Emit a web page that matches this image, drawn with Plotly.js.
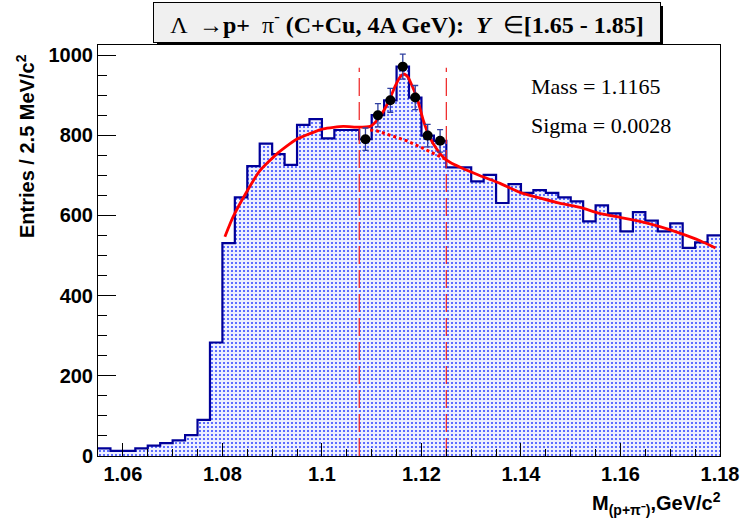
<!DOCTYPE html>
<html><head><meta charset="utf-8">
<script src="https://cdn.plot.ly/plotly-3.0.1.min.js"></script>
<style>html,body{margin:0;padding:0;background:#fff}#chart{width:740px;height:523px}</style>
</head><body><div id="chart"></div>
<script>
// Histogram: 50 bins of 2.5 MeV from 1.055 to 1.18 GeV/c^2
const binLow = 1.055;
const binWidth = 0.0025;
const counts = [19,13,13,19,26,32,39,52,90,283,
                531,645,723,779,753,726,826,840,792,813,
                813,790,850,887,971,894,799,786,720,720,
                685,701,631,678,656,663,656,645,635,585,
                625,605,560,608,587,560,580,519,533,550];
// Signal-window points (with errors)
const sigX = [1.10875,1.11125,1.11375,1.11625,1.11875,1.12125,1.12375];
const sigY = [790,850,887,971,894,799,786];
const sigErr = [28,29,30,31,30,28,28];
// Fit curve (signal + background)
const fitX = [1.0805,1.0821,1.0848,1.0875,1.0909,1.0949,1.1003,1.1043,1.1073,1.1097,1.1113,1.1125,1.1137,1.1147,1.1157,1.1165,1.1173,1.1183,1.1191,1.1204,1.1217,1.1231,1.1244,1.1258,1.1278,1.1318,1.1358,1.1399,1.1439,1.1479,1.1519,1.1558,1.1599,1.1639,1.1679,1.1719,1.1760,1.1791];
const fitY = [547,595,657,711,753,790,816,822,820,822,840,863,892,922,945,953,945,918,894,836,794,765,745,732,720,699,680,657,643,630,620,605,595,585,572,556,537,519];
// Background-only (dotted) under the peak
const bgX = [1.1097,1.1110,1.1137,1.1171,1.1197,1.1224,1.1241,1.1252];
const bgY = [813,811,800,786,771,755,743,738];
// Signal window boundaries
const winX = [1.1075,1.125];
const winTop = 968;
const massText = 'Mass = 1.1165';
const sigmaText = 'Sigma = 0.0028';

const centers = counts.map((_,i)=>binLow+(i+0.5)*binWidth);
const edges = counts.map((_,i)=>binLow+i*binWidth).concat([binLow+counts.length*binWidth]);
const stepY = counts.concat([counts[counts.length-1]]);

const traces = [
 {type:'bar', x:centers, y:counts, width:binWidth, hoverinfo:'skip',
  marker:{color:'#ffffff', line:{width:0},
   pattern:{shape:'.', fgcolor:'#3a4cff', bgcolor:'#eef0ff', size:4, solidity:0.22, fillmode:'replace'}}},
 {type:'scatter', mode:'lines', x:edges, y:stepY, line:{shape:'hv', color:'#000099', width:2.2}, hoverinfo:'skip'},
 {type:'scatter', mode:'lines', x:[winX[0],winX[0]], y:[0,winTop], line:{color:'#ee2020', width:1.2, dash:'18px,6px'}},
 {type:'scatter', mode:'lines', x:[winX[1],winX[1]], y:[0,winTop], line:{color:'#ee2020', width:1.2, dash:'18px,6px'}},
 {type:'scatter', mode:'lines', x:bgX, y:bgY, line:{color:'#ff0000', width:3, dash:'dot'}},
 {type:'scatter', mode:'lines', x:fitX, y:fitY, line:{color:'#ff0000', width:2.8, shape:'spline', smoothing:0.5}},
 {type:'scatter', mode:'markers', x:sigX, y:sigY,
  error_y:{type:'data', array:sigErr, color:'#3040a0', thickness:1.3, width:3},
  marker:{color:'#000000', size:10}}
];

const axFont = {family:'Liberation Sans', size:20, color:'#000', weight:'bold'};
const layout = {
 width:740, height:523, showlegend:false,
 paper_bgcolor:'#ffffff', plot_bgcolor:'#ffffff',
 margin:{l:98, r:20, t:45, b:67},
 bargap:0,
 xaxis:{range:[1.055,1.18], tick0:1.06, dtick:0.02, ticks:'inside', ticklen:13, tickcolor:'#000', tickwidth:1,
   minor:{ticks:'inside', ticklen:7, dtick:0.005, tick0:1.06, tickcolor:'#000'},
   showline:true, mirror:true, linecolor:'#000', linewidth:1, showgrid:false, zeroline:false,
   tickfont:axFont},
 yaxis:{range:[0,1025], tick0:0, dtick:200, ticks:'inside', ticklen:18, tickcolor:'#000', tickwidth:1,
   minor:{ticks:'inside', ticklen:9, dtick:50, tickcolor:'#000'},
   showline:true, mirror:true, linecolor:'#000', linewidth:1, showgrid:false, zeroline:false,
   tickfont:axFont},
 shapes:[
  {type:'rect', xref:'paper', yref:'paper', x0:(157-98)/622, x1:(663-98)/622, y0:(456-45)/411, y1:(456-6)/411,
   fillcolor:'#000', line:{width:0}, layer:'above'}
 ],
 annotations:[
  {xref:'paper', yref:'paper', x:(407-98)/622, y:(456-22.5)/411, xanchor:'center', yanchor:'middle',
   text:'Λ  →<b>p+</b>  π<sup>-</sup> <b>(C+Cu, 4A GeV):</b>  <b><i>Y</i></b>  ∈<b>[1.65 - 1.85]</b>',
   showarrow:false, font:{family:'Liberation Serif', size:24, color:'#000'},
   bgcolor:'#f0f0f0', bordercolor:'#000', borderwidth:1, width:504, height:37},
  {xref:'paper', yref:'paper', x:(529-98)/622, y:(456-86)/411, xanchor:'left', yanchor:'middle',
   text:massText, showarrow:false, font:{family:'Liberation Serif', size:22, color:'#000'}},
  {xref:'paper', yref:'paper', x:(529-98)/622, y:(456-126)/411, xanchor:'left', yanchor:'middle',
   text:sigmaText, showarrow:false, font:{family:'Liberation Serif', size:22, color:'#000'}},
  {xref:'paper', yref:'paper', x:(723-98)/622, y:(456-503)/411, xanchor:'right', yanchor:'middle',
   text:'<b>M<sub>(p+π⁻)</sub>,GeV/c<sup>2</sup></b>', showarrow:false,
   font:{family:'Liberation Sans', size:20, color:'#000'}},
  {xref:'paper', yref:'paper', x:(25-98)/622, y:(456-146)/411, xanchor:'center', yanchor:'middle', textangle:-90,
   text:'<b>Entries / 2.5 MeV/c<sup>2</sup></b>', showarrow:false,
   font:{family:'Liberation Sans', size:20, color:'#000'}}
 ]
};
Plotly.newPlot('chart', traces, layout, {displayModeBar:false, staticPlot:true});
</script></body></html>
